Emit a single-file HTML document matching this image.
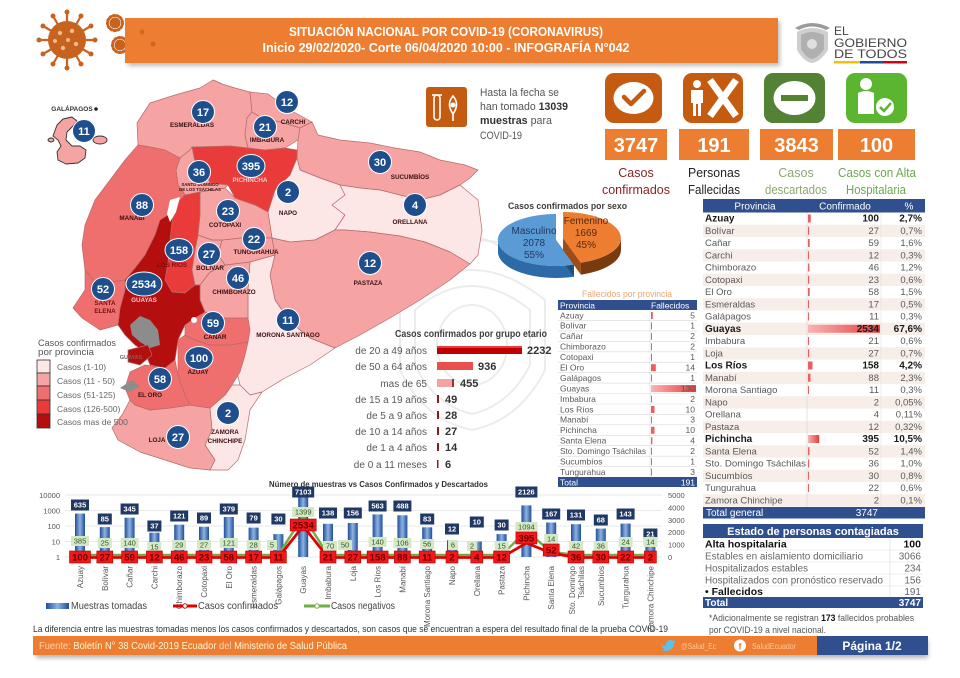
<!DOCTYPE html>
<html><head><meta charset="utf-8"><style>
html,body{margin:0;padding:0;background:#fff;}
svg{display:block;}
text{font-family:"Liberation Sans","DejaVu Sans",sans-serif;}
</style></head><body>
<svg width="960" height="678" viewBox="0 0 960 678" xmlns="http://www.w3.org/2000/svg">
<defs>
<linearGradient id="bar" x1="0" x2="1" y1="0" y2="0"><stop offset="0" stop-color="#1f4e99"/><stop offset="0.5" stop-color="#8db3e2"/><stop offset="1" stop-color="#1f4e99"/></linearGradient>
<linearGradient id="redbar" x1="0" x2="1"><stop offset="0" stop-color="#f8b4b4"/><stop offset="1" stop-color="#e83c3c"/></linearGradient>
<filter id="sh" x="-10%" y="-50%" width="120%" height="200%"><feGaussianBlur stdDeviation="2"/></filter>
</defs>
<rect width="960" height="678" fill="#fff"/>

<!-- faint watermark -->
<g fill="none" stroke="#ececec" stroke-width="2">
<path d="M400,300 Q470,240 545,300 L545,370 Q520,420 472,430 Q424,420 400,370 Z"/>
<path d="M415,310 Q470,262 530,310 L530,365 Q510,405 472,414 Q434,405 415,365 Z"/>
<path d="M380,265 Q470,215 565,265"/>
<ellipse cx="472" cy="345" rx="35" ry="40"/>
<path d="M440,250 Q472,225 505,250"/>
</g>

<!-- ===== HEADER ===== -->
<g fill="#c8621f" stroke="#c8621f" stroke-linecap="round">
<circle cx="67" cy="40" r="19" stroke="none"/>
<g stroke-width="2.2">
<line x1="67" y1="40" x2="95" y2="40"/><line x1="67" y1="40" x2="91" y2="54"/><line x1="67" y1="40" x2="81" y2="64"/>
<line x1="67" y1="40" x2="67" y2="68"/><line x1="67" y1="40" x2="53" y2="64"/><line x1="67" y1="40" x2="43" y2="54"/>
<line x1="67" y1="40" x2="39" y2="40"/><line x1="67" y1="40" x2="43" y2="26"/><line x1="67" y1="40" x2="53" y2="16"/>
<line x1="67" y1="40" x2="67" y2="12"/><line x1="67" y1="40" x2="81" y2="16"/><line x1="67" y1="40" x2="91" y2="26"/>
</g>
<g stroke="none">
<circle cx="95" cy="40" r="2.5"/><circle cx="91" cy="54" r="2.5"/><circle cx="81" cy="64" r="2.5"/><circle cx="67" cy="68" r="2.5"/><circle cx="53" cy="64" r="2.5"/><circle cx="43" cy="54" r="2.5"/><circle cx="39" cy="40" r="2.5"/><circle cx="43" cy="26" r="2.5"/><circle cx="53" cy="16" r="2.5"/><circle cx="67" cy="12" r="2.5"/><circle cx="81" cy="16" r="2.5"/><circle cx="91" cy="26" r="2.5"/>
</g>
<g fill="#f0b890" stroke="none"><circle cx="60" cy="33" r="2.2"/><circle cx="72" cy="31" r="2.2"/><circle cx="76" cy="44" r="2.2"/><circle cx="63" cy="48" r="2.2"/><circle cx="55" cy="41" r="2"/><circle cx="68" cy="40" r="2"/></g>
<circle cx="115" cy="23" r="5.5" stroke="none"/><circle cx="115" cy="23" r="7.5" fill="none" stroke-width="3" stroke-dasharray="1.5 2.2"/>
<circle cx="120" cy="45" r="5.5" stroke="none"/><circle cx="120" cy="45" r="7.5" fill="none" stroke-width="3" stroke-dasharray="1.5 2.2"/>
</g>
<rect x="128" y="21" width="652" height="45" fill="#888" opacity="0.55" filter="url(#sh)"/>
<rect x="125" y="18" width="653" height="45" fill="#ed7d31"/>
<circle cx="142" cy="32" r="2.5" fill="#c8621f" opacity="0.8"/><circle cx="153" cy="44" r="2.5" fill="#c8621f" opacity="0.8"/>
<text x="446" y="36" text-anchor="middle" font-size="12.5" font-weight="bold" fill="#fff" textLength="314" lengthAdjust="spacingAndGlyphs">SITUACIÓN NACIONAL POR COVID-19 (CORONAVIRUS)</text>
<text x="446" y="52" text-anchor="middle" font-size="12.5" font-weight="bold" fill="#fff" textLength="367" lengthAdjust="spacingAndGlyphs">Inicio 29/02/2020- Corte 06/04/2020 10:00 - INFOGRAFÍA N°042</text>

<!-- gov logo -->
<g>
<path d="M797,32 Q812,24 828,32 L828,50 Q820,62 812,63 Q804,62 797,50 Z" fill="#cfcfcf"/>
<path d="M801,35 Q812,29 824,35 L824,49 Q818,58 812,59 Q806,58 801,49 Z" fill="#b0b0b0"/>
<path d="M795,28 Q812,18 830,28 L826,30 Q812,23 799,30 Z" fill="#9a9a9a"/>
<circle cx="812" cy="44" r="5" fill="#e0e0e0"/>
</g>
<text x="834" y="35" font-size="12" fill="#444">EL</text>
<text x="834" y="47" font-size="12" fill="#444" textLength="73" lengthAdjust="spacingAndGlyphs">GOBIERNO</text>
<text x="834" y="58" font-size="12" fill="#444" textLength="73" lengthAdjust="spacingAndGlyphs">DE TODOS</text>
<rect x="834" y="61" width="26" height="2.5" fill="#f2c200"/>
<rect x="860" y="61" width="24" height="2.5" fill="#1f4e99"/>
<rect x="884" y="61" width="23" height="2.5" fill="#d0021b"/>

<!-- ===== TEST TUBE / SAMPLES ===== -->
<rect x="426" y="87" width="41" height="40" rx="3" fill="#c55a11"/>
<rect x="434" y="95" width="6" height="25" rx="3" fill="none" stroke="#fff" stroke-width="1.6"/>
<line x1="432" y1="95" x2="442" y2="95" stroke="#fff" stroke-width="1.6"/>
<path d="M453,96 Q460,104 453,114 Q446,104 453,96 Z" fill="none" stroke="#fff" stroke-width="1.6"/>
<circle cx="453" cy="105" r="2.5" fill="#fff"/>
<line x1="453" y1="114" x2="453" y2="121" stroke="#fff" stroke-width="1.6"/>
<g font-size="11" fill="#555">
<text x="480" y="96" textLength="79" lengthAdjust="spacingAndGlyphs">Hasta la fecha se</text>
<text x="480" y="110" textLength="88" lengthAdjust="spacingAndGlyphs">han tomado <tspan font-weight="bold" fill="#333">13039</tspan></text>
<text x="480" y="124" textLength="72" lengthAdjust="spacingAndGlyphs"><tspan font-weight="bold" fill="#333">muestras</tspan>  para</text>
<text x="480" y="139" textLength="42" lengthAdjust="spacingAndGlyphs">COVID-19</text>
</g>

<!-- ===== ICONS ===== -->
<rect x="605" y="73" width="57" height="50" rx="9" fill="#c55a11"/>
<ellipse cx="633.5" cy="98" rx="20" ry="16" fill="#fff"/>
<path d="M624,97 L631,104 L644,91" stroke="#c55a11" stroke-width="4.5" fill="none" stroke-linecap="round" stroke-linejoin="round"/>

<rect x="683" y="73" width="60" height="50" rx="9" fill="#c55a11"/>
<circle cx="697" cy="84" r="4" fill="#fff"/>
<path d="M691,90 L703,90 L703,103 L701,103 L701,116 L698,116 L698,104 L696,104 L696,116 L693,116 L693,103 L691,103 Z" fill="#fff"/>
<path d="M710,80 L736,116 M736,80 L710,116" stroke="#fff" stroke-width="7"/>

<rect x="764" y="73" width="61" height="50" rx="9" fill="#548235"/>
<ellipse cx="794.5" cy="98" rx="21" ry="17" fill="#fff"/>
<rect x="781" y="95" width="27" height="6" fill="#548235"/>

<rect x="846" y="73" width="61" height="50" rx="9" fill="#5cb531"/>
<circle cx="866" cy="84" r="6" fill="#fff"/>
<path d="M858,93 Q866,89 874,93 L874,114 L858,114 Z" fill="#fff"/>
<circle cx="885" cy="107" r="10" fill="#fff" stroke="#5cb531" stroke-width="2"/>
<path d="M880,107 L884,111 L891,103" stroke="#5cb531" stroke-width="2.5" fill="none"/>

<g fill="#ed7d31">
<rect x="605" y="129" width="62" height="31"/>
<rect x="679" y="129" width="70" height="31"/>
<rect x="760" y="129" width="73" height="31"/>
<rect x="838" y="129" width="77" height="31"/>
</g>
<g font-size="20" font-weight="bold" fill="#fff" text-anchor="middle">
<text x="636" y="152">3747</text>
<text x="714" y="152">191</text>
<text x="796.5" y="152">3843</text>
<text x="876.5" y="152">100</text>
</g>
<g font-size="12.5" text-anchor="middle">
<text x="636" y="177" fill="#8b2323">Casos</text>
<text x="636" y="194" fill="#8b2323" textLength="68" lengthAdjust="spacingAndGlyphs">confirmados</text>
<text x="714" y="177" fill="#222" textLength="52" lengthAdjust="spacingAndGlyphs">Personas</text>
<text x="714" y="194" fill="#222" textLength="52" lengthAdjust="spacingAndGlyphs">Fallecidas</text>
<text x="796" y="177" fill="#8aa870">Casos</text>
<text x="796" y="194" fill="#8aa870" textLength="62" lengthAdjust="spacingAndGlyphs">descartados</text>
<text x="877" y="177" fill="#6aa84f" textLength="78" lengthAdjust="spacingAndGlyphs">Casos con Alta</text>
<text x="876" y="194" fill="#6aa84f" textLength="60" lengthAdjust="spacingAndGlyphs">Hospitalaria</text>
</g>

<!-- ===== MAP ===== -->
<g stroke="#b86a6a" stroke-width="0.7" stroke-linejoin="round">
<polygon points="213,80 222,84 218,88" fill="#777"/>
<polygon fill="#f5a3a3" points="137,123 150,103 175,95 200,88 213,80 222,84 235,88 250,92 252,112 247,118 245,135 248,148 230,146 200,147 190,150 180,158 165,150 150,147 138,145"/>
<polygon fill="#f5a3a3" points="250,92 268,94 290,110 312,122 300,128 280,122 262,118 252,112"/>
<polygon fill="#f5a3a3" points="252,112 262,118 280,122 300,128 298,140 285,148 265,150 248,148 245,135 247,118"/>
<polygon fill="#f5a3a3" points="300,128 312,122 318,135 340,140 370,143 395,148 420,152 440,160 465,165 478,170 470,178 460,185 440,195 420,200 400,195 380,190 360,188 340,185 320,178 300,170 297,158 298,140"/>
<polygon fill="#fde6e6" points="297,158 300,170 320,178 340,185 345,195 332,205 345,215 335,230 315,240 290,242 272,238 268,212 275,190 290,175"/>
<polygon fill="#fde6e6" points="340,185 360,188 380,190 400,195 420,200 440,195 460,185 478,200 482,230 478,255 470,264 450,252 425,242 400,236 370,232 345,230 335,230 345,215 332,205 345,195"/>
<polygon fill="#f5a3a3" points="272,238 290,242 315,240 335,230 345,230 370,232 400,236 425,242 450,252 470,264 450,280 420,300 390,318 360,335 335,348 310,338 290,322 275,300 270,275 275,255"/>
<polygon fill="#fde6e6" points="250,262 275,255 270,275 275,300 290,322 310,338 335,348 310,365 285,378 262,392 250,395 240,385 235,365 245,345 248,318 248,290"/>
<polygon fill="#fde6e6" points="210,408 225,395 232,385 240,385 250,395 262,392 250,410 245,440 238,460 228,470 210,470 215,460 205,445 212,430"/>
<polygon fill="#f5a3a3" points="122,415 130,400 135,405 150,410 170,408 190,405 210,408 212,430 205,445 215,460 210,470 190,468 165,460 140,452 118,440 112,428"/>
<polygon fill="#ef6f6f" points="130,372 145,365 165,368 175,360 178,375 185,395 190,405 170,408 150,410 135,405 130,400 125,388"/>
<polygon fill="#ef6f6f" points="178,340 185,335 195,340 210,345 230,345 248,342 245,355 240,372 232,385 225,395 210,408 190,405 185,395 178,375 178,355"/>
<polygon fill="#ef6f6f" points="185,325 195,318 205,312 225,318 248,318 250,330 248,342 230,345 210,345 195,340 185,335"/>
<polygon fill="#f5a3a3" points="200,285 210,272 225,265 250,262 248,290 248,318 225,318 205,312 200,300"/>
<polygon fill="#f5a3a3" points="218,255 222,240 250,237 272,238 275,255 250,262 225,265"/>
<polygon fill="#f5a3a3" points="195,250 198,235 212,240 222,240 218,255 225,265 210,272 200,285 195,285 192,270"/>
<polygon fill="#f5a3a3" points="200,192 225,188 235,198 255,205 268,212 272,238 250,237 222,240 212,240 198,235 200,215"/>
<polygon fill="#ea3b3b" points="192,147 230,146 248,148 265,150 285,148 297,150 297,158 290,175 275,190 268,212 255,205 235,198 228,185 210,183 205,170 195,162"/>
<polygon fill="#f5a3a3" points="176,170 180,158 190,150 192,147 195,162 205,170 210,183 228,185 225,188 200,192 185,195 178,185"/>
<polygon fill="#ef6f6f" points="138,145 150,147 165,150 180,158 176,170 178,185 185,195 175,205 168,215 160,220 155,235 145,255 135,268 125,280 110,282 95,282 85,270 82,245 85,225 95,200 110,180 125,160"/>
<polygon fill="#ea3b3b" points="175,205 185,195 200,192 200,215 198,235 195,250 192,270 195,285 185,293 172,292 165,280 168,262 170,240 172,222"/>
<polygon fill="#b40e0e" points="160,220 168,215 175,205 172,222 170,240 168,262 165,280 172,292 185,293 195,285 200,285 200,300 205,312 195,318 185,325 178,340 175,360 165,368 150,365 145,352 135,345 125,335 118,325 120,308 125,290 125,280 135,268 145,255 155,235"/>
<polygon fill="#ef6f6f" points="85,270 95,282 110,282 125,280 125,290 120,308 118,325 100,330 82,318 73,308 85,290"/>
<polygon fill="#8c8c8c" stroke="none" points="130,325 140,316 150,320 158,330 160,345 150,348 140,342 132,335"/>
<polygon fill="#b40e0e" points="128,350 148,345 152,355 140,365 128,362"/>
<polygon fill="#8c8c8c" stroke="none" points="120,388 132,380 140,386 130,392"/>
<polygon fill="#fff" stroke="none" points="170,200 180,197 176,212 170,222 167,214"/>
<circle cx="194" cy="320" r="3" fill="#fff" stroke="none"/>
<!-- galapagos -->
<polygon fill="#f5a3a3" stroke="#333" stroke-width="0.9" points="57,125 63,119 72,117 77,121 72,127 67,132 66,140 72,146 80,146 86,150 85,158 78,163 66,164 58,160 57,152 61,146 58,140 53,136"/>
<ellipse cx="100" cy="140" rx="7" ry="4" fill="#f5a3a3" stroke="#333" stroke-width="0.9"/>
<ellipse cx="51" cy="140" rx="3" ry="2" fill="#f5a3a3" stroke="#333" stroke-width="0.9"/>
</g>
<circle cx="96" cy="109" r="1.8" fill="#222"/>
<text x="72" y="111" text-anchor="middle" font-size="6.5" font-weight="bold" fill="#333">GALÁPAGOS</text>

<!-- map labels -->
<g font-size="6.3" font-weight="bold" fill="#3a1010" text-anchor="middle">
<text x="192" y="127">ESMERALDAS</text>
<text x="293" y="124">CARCHI</text>
<text x="267" y="142">IMBABURA</text>
<text x="410" y="179">SUCUMBÍOS</text>
<text x="200" y="186" font-size="4.3">SANTO DOMINGO</text>
<text x="200" y="191" font-size="4.3">DE LOS TSÁCHILAS</text>
<text x="250" y="182" fill="#fbc8c8">PICHINCHA</text>
<text x="288" y="215">NAPO</text>
<text x="410" y="224">ORELLANA</text>
<text x="132" y="220">MANABÍ</text>
<text x="225" y="227">COTOPAXI</text>
<text x="256" y="254">TUNGURAHUA</text>
<text x="172" y="267" fill="#7a1010">LOS RÍOS</text>
<text x="210" y="270">BOLÍVAR</text>
<text x="368" y="285">PASTAZA</text>
<text x="234" y="294">CHIMBORAZO</text>
<text x="144" y="302" fill="#fbc8c8">GUAYAS</text>
<text x="105" y="305" fill="#7a1010">SANTA</text>
<text x="105" y="313" fill="#7a1010">ELENA</text>
<text x="288" y="337">MORONA SANTIAGO</text>
<text x="215" y="339">CAÑAR</text>
<text x="198" y="374">AZUAY</text>
<text x="150" y="397">EL ORO</text>
<text x="225" y="434">ZAMORA</text>
<text x="225" y="443">CHINCHIPE</text>
<text x="157" y="442">LOJA</text>
<text x="131" y="359" fill="#666" font-size="5.5">GUAYAS</text>
</g>

<!-- map circles -->
<g fill="#1f4e8c" stroke="#fff" stroke-width="1">
<circle cx="84" cy="131" r="11.5"/>
<circle cx="203" cy="112" r="11.5"/>
<circle cx="287" cy="102" r="11.5"/>
<circle cx="265" cy="127" r="11.5"/>
<circle cx="380" cy="162" r="11.5"/>
<circle cx="199" cy="172" r="11.5"/>
<ellipse cx="251" cy="166" rx="14" ry="11.5"/>
<circle cx="288" cy="192" r="11.5"/>
<circle cx="415" cy="205" r="11.5"/>
<circle cx="142" cy="205" r="11.5"/>
<circle cx="228" cy="211" r="11.5"/>
<circle cx="254" cy="239" r="11.5"/>
<ellipse cx="179" cy="250" rx="14" ry="11.5"/>
<circle cx="209" cy="254" r="11.5"/>
<circle cx="370" cy="263" r="11.5"/>
<circle cx="238" cy="278" r="11.5"/>
<ellipse cx="144" cy="284" rx="18" ry="12"/>
<circle cx="103" cy="289" r="11.5"/>
<circle cx="288" cy="320" r="11.5"/>
<circle cx="213" cy="323" r="11.5"/>
<ellipse cx="199" cy="358" rx="14" ry="11.5"/>
<circle cx="160" cy="379" r="11.5"/>
<circle cx="228" cy="413" r="11.5"/>
<circle cx="178" cy="437" r="11.5"/>
</g>
<g font-size="11" font-weight="bold" fill="#fff" text-anchor="middle">
<text x="84" y="135">11</text>
<text x="203" y="116">17</text>
<text x="287" y="106">12</text>
<text x="265" y="131">21</text>
<text x="380" y="166">30</text>
<text x="199" y="176">36</text>
<text x="251" y="170">395</text>
<text x="288" y="196">2</text>
<text x="415" y="209">4</text>
<text x="142" y="209">88</text>
<text x="228" y="215">23</text>
<text x="254" y="243">22</text>
<text x="179" y="254">158</text>
<text x="209" y="258">27</text>
<text x="370" y="267">12</text>
<text x="238" y="282">46</text>
<text x="144" y="288">2534</text>
<text x="103" y="293">52</text>
<text x="288" y="324">11</text>
<text x="213" y="327">59</text>
<text x="199" y="362">100</text>
<text x="160" y="383">58</text>
<text x="228" y="417">2</text>
<text x="178" y="441">27</text>
</g>

<!-- map legend -->
<text x="38" y="346" font-size="9" fill="#555" textLength="78" lengthAdjust="spacingAndGlyphs">Casos confirmados</text>
<text x="38" y="355" font-size="9" fill="#555" textLength="56" lengthAdjust="spacingAndGlyphs">por provincia</text>
<g stroke="#333" stroke-width="0.8">
<rect x="37" y="360" width="13" height="13" fill="#fde6e6"/>
<rect x="37" y="373" width="13" height="13" fill="#f5a3a3"/>
<rect x="37" y="386" width="13" height="14" fill="#ef6f6f"/>
<rect x="37" y="400" width="13" height="14" fill="#ea3b3b"/>
<rect x="37" y="414" width="13" height="14" fill="#b40e0e"/>
</g>
<g font-size="8.5" fill="#666">
<text x="57" y="370">Casos (1-10)</text>
<text x="57" y="384">Casos (11 - 50)</text>
<text x="57" y="398">Casos (51-125)</text>
<text x="57" y="412">Casos (126-500)</text>
<text x="57" y="425">Casos mas de 500</text>
</g>

<!-- ===== PIE ===== -->
<text x="508" y="209" font-size="9.5" font-weight="bold" fill="#404040" textLength="119" lengthAdjust="spacingAndGlyphs">Casos confirmados por sexo</text>
<path d="M573.9,264.7 A58,26 0 0,1 498,240 L498,252 A58,26 0 0,0 573.9,276.7 Z" fill="#2e6aa8"/>
<path d="M556,240 L573.9,264.7 L573.9,276.7 L556,252 Z" fill="#1f4e79"/>
<path d="M556,240 L573.9,264.7 A58,26 0 1,1 556,214 Z" fill="#5b9bd5"/>
<path d="M621,238 A58,26 0 0,1 580.9,262.7 L580.9,274.7 A58,26 0 0,0 621,250 Z" fill="#7a3a10"/>
<path d="M563,238 L580.9,262.7 L580.9,274.7 L563,250 Z" fill="#a04c18"/>
<path d="M563,238 L563,212 A58,26 0 0,1 580.9,262.7 Z" fill="#ed7d31"/>
<g font-size="10" text-anchor="middle">
<text x="534" y="234" fill="#1f3864">Masculino</text>
<text x="534" y="246" fill="#1f3864">2078</text>
<text x="534" y="258" fill="#1f3864">55%</text>
<text x="586" y="224" fill="#5a2a0a">Femenino</text>
<text x="586" y="236" fill="#5a2a0a">1669</text>
<text x="586" y="248" fill="#5a2a0a">45%</text>
</g>

<!-- ===== AGE CHART ===== -->
<text x="395" y="337" font-size="10" font-weight="bold" fill="#404040" textLength="152" lengthAdjust="spacingAndGlyphs">Casos confirmados por grupo etario</text>
<g font-size="10" fill="#595959" text-anchor="end">
<text x="427" y="354">de 20 a 49 años</text>
<text x="427" y="370">de 50 a 64 años</text>
<text x="427" y="387">mas de 65</text>
<text x="427" y="403">de 15 a 19 años</text>
<text x="427" y="419">de 5 a 9 años</text>
<text x="427" y="435">de 10 a 14 años</text>
<text x="427" y="451">de 1 a 4 años</text>
<text x="427" y="468">de 0 a 11 meses</text>
</g>
<rect x="437" y="346" width="85" height="8" fill="#c00000"/><rect x="437" y="346" width="85" height="2" fill="#e04040"/>
<rect x="437" y="362" width="36" height="8" fill="#e8504f"/>
<rect x="437" y="379" width="17" height="8" fill="#f3a3a3"/><rect x="452" y="379" width="2" height="8" fill="#a03030"/>
<g fill="#7f2020">
<rect x="437" y="395" width="2" height="8"/><rect x="437" y="411" width="2" height="8"/><rect x="437" y="427" width="2" height="8"/><rect x="437" y="443" width="2" height="8"/><rect x="437" y="460" width="1.5" height="8"/>
</g>
<g font-size="11" font-weight="bold" fill="#333">
<text x="527" y="354">2232</text>
<text x="478" y="370">936</text>
<text x="460" y="387">455</text>
<text x="445" y="403">49</text>
<text x="445" y="419">28</text>
<text x="445" y="435">27</text>
<text x="445" y="451">14</text>
<text x="445" y="468">6</text>
</g>

<!-- ===== FALLECIDOS TABLE ===== -->
<text x="582" y="297" font-size="9.5" fill="#e8a870" textLength="90" lengthAdjust="spacingAndGlyphs">Fallecidos por provincia</text>
<rect x="558" y="300" width="139" height="10" fill="#2f4f8f"/>
<text x="560" y="308.5" font-size="8.5" fill="#fff">Provincia</text>
<text x="651" y="308.5" font-size="8.5" fill="#fff">Fallecidos</text>
<rect x="558" y="310" width="139" height="167" fill="#fff"/>
<g stroke="#d9d9d9" stroke-width="0.6">
<line x1="558" y1="320.4" x2="697" y2="320.4"/><line x1="558" y1="330.9" x2="697" y2="330.9"/><line x1="558" y1="341.3" x2="697" y2="341.3"/><line x1="558" y1="351.8" x2="697" y2="351.8"/><line x1="558" y1="362.2" x2="697" y2="362.2"/><line x1="558" y1="372.6" x2="697" y2="372.6"/><line x1="558" y1="383.1" x2="697" y2="383.1"/><line x1="558" y1="393.5" x2="697" y2="393.5"/><line x1="558" y1="404" x2="697" y2="404"/><line x1="558" y1="414.4" x2="697" y2="414.4"/><line x1="558" y1="424.8" x2="697" y2="424.8"/><line x1="558" y1="435.3" x2="697" y2="435.3"/><line x1="558" y1="445.7" x2="697" y2="445.7"/><line x1="558" y1="456.2" x2="697" y2="456.2"/><line x1="558" y1="466.6" x2="697" y2="466.6"/>
<line x1="650" y1="310" x2="650" y2="477"/>
</g>
<g fill="#e86060">
<rect x="651" y="312" width="1.8" height="7"/><rect x="651" y="322.4" width="1" height="7"/><rect x="651" y="332.9" width="1" height="7"/><rect x="651" y="343.3" width="1" height="7"/><rect x="651" y="353.8" width="1" height="7"/><rect x="651" y="364.2" width="4.8" height="7"/><rect x="651" y="374.6" width="1" height="7"/><rect x="651" y="385.1" width="45" height="7" fill="url(#redbar)"/><rect x="651" y="395.5" width="1" height="7"/><rect x="651" y="406" width="3.5" height="7"/><rect x="651" y="416.4" width="1" height="7"/><rect x="651" y="426.8" width="3.5" height="7"/><rect x="651" y="437.3" width="1.4" height="7"/><rect x="651" y="447.7" width="1" height="7"/><rect x="651" y="458.2" width="1" height="7"/><rect x="651" y="468.6" width="1" height="7"/>
</g>
<g font-size="8.5" fill="#595959">
<text x="560" y="318.3">Azuay</text><text x="560" y="328.7">Bolívar</text><text x="560" y="339.2">Cañar</text><text x="560" y="349.6">Chimborazo</text><text x="560" y="360.1">Cotopaxi</text><text x="560" y="370.5">El Oro</text><text x="560" y="380.9">Galápagos</text><text x="560" y="391.4">Guayas</text><text x="560" y="401.8">Imbabura</text><text x="560" y="412.3">Los Ríos</text><text x="560" y="422.7">Manabí</text><text x="560" y="433.1">Pichincha</text><text x="560" y="443.6">Santa Elena</text><text x="560" y="454" textLength="86" lengthAdjust="spacingAndGlyphs">Sto. Domingo Tsáchilas</text><text x="560" y="464.5">Sucumbíos</text><text x="560" y="474.9">Tungurahua</text>
</g>
<g font-size="8.5" fill="#595959" text-anchor="end">
<text x="695" y="318.3">5</text><text x="695" y="328.7">1</text><text x="695" y="339.2">2</text><text x="695" y="349.6">2</text><text x="695" y="360.1">1</text><text x="695" y="370.5">14</text><text x="695" y="380.9">1</text><text x="695" y="391.4">130</text><text x="695" y="401.8">2</text><text x="695" y="412.3">10</text><text x="695" y="422.7">3</text><text x="695" y="433.1">10</text><text x="695" y="443.6">4</text><text x="695" y="454">2</text><text x="695" y="464.5">1</text><text x="695" y="474.9">3</text>
</g>
<rect x="558" y="477" width="139" height="10" fill="#2f4f8f"/>
<text x="560" y="485.3" font-size="8.5" fill="#fff">Total</text>
<text x="695" y="485.3" font-size="8.5" fill="#fff" text-anchor="end">191</text>

<!-- ===== PROVINCE TABLE ===== -->
<rect x="703" y="199" width="222" height="13.5" fill="#2f4f8f"/>
<g font-size="10" fill="#fff" text-anchor="middle">
<text x="755" y="209.5">Provincia</text><text x="845" y="209.5">Confirmado</text><text x="909" y="209.5">%</text>
</g>
<g fill="#f7eeea">
<rect x="703" y="224.75" width="222" height="12.25"/><rect x="703" y="249.25" width="222" height="12.25"/><rect x="703" y="273.75" width="222" height="12.25"/><rect x="703" y="298.25" width="222" height="12.25"/><rect x="703" y="322.75" width="222" height="12.25"/><rect x="703" y="347.25" width="222" height="12.25"/><rect x="703" y="371.75" width="222" height="12.25"/><rect x="703" y="396.25" width="222" height="12.25"/><rect x="703" y="420.75" width="222" height="12.25"/><rect x="703" y="445.25" width="222" height="12.25"/><rect x="703" y="469.75" width="222" height="12.25"/><rect x="703" y="494.25" width="222" height="12.25"/>
</g>
<line x1="807" y1="212.5" x2="807" y2="507" stroke="#d0d0d0" stroke-width="0.6"/>
<line x1="881" y1="212.5" x2="881" y2="507" stroke="#e0e0e0" stroke-width="0.6"/>
<g fill="#e86060">
<rect x="808" y="214.5" width="2.8" height="8"/><rect x="808" y="226.75" width="1.2" height="8"/><rect x="808" y="239" width="1.7" height="8"/><rect x="808" y="251.25" width="1" height="8"/><rect x="808" y="263.5" width="1.4" height="8"/><rect x="808" y="275.75" width="1.2" height="8"/><rect x="808" y="288" width="1.7" height="8"/><rect x="808" y="300.25" width="1" height="8"/><rect x="808" y="312.5" width="1" height="8"/><rect x="808" y="324.75" width="72" height="8" fill="url(#redbar)"/><rect x="808" y="337" width="1" height="8"/><rect x="808" y="349.25" width="1.2" height="8"/><rect x="808" y="361.5" width="4.5" height="8"/><rect x="808" y="373.75" width="2.5" height="8"/><rect x="808" y="386" width="1" height="8"/><rect x="808" y="435" width="11.2" height="8" fill="url(#redbar)"/><rect x="808" y="447.25" width="1.5" height="8"/><rect x="808" y="459.5" width="1.2" height="8"/><rect x="808" y="471.75" width="1" height="8"/><rect x="808" y="484" width="1" height="8"/>
</g>
<g font-size="9.5" fill="#595959">
<text x="705" y="233.75">Bolívar</text><text x="705" y="246">Cañar</text><text x="705" y="258.25">Carchi</text><text x="705" y="270.5">Chimborazo</text><text x="705" y="282.75">Cotopaxi</text><text x="705" y="295">El Oro</text><text x="705" y="307.25">Esmeraldas</text><text x="705" y="319.5">Galápagos</text><text x="705" y="344">Imbabura</text><text x="705" y="356.25">Loja</text><text x="705" y="380.75">Manabí</text><text x="705" y="393">Morona Santiago</text><text x="705" y="405.25">Napo</text><text x="705" y="417.5">Orellana</text><text x="705" y="429.75">Pastaza</text><text x="705" y="454.25">Santa Elena</text><text x="705" y="466.5" textLength="101" lengthAdjust="spacingAndGlyphs">Sto. Domingo Tsáchilas</text><text x="705" y="478.75">Sucumbíos</text><text x="705" y="491">Tungurahua</text><text x="705" y="503.25">Zamora Chinchipe</text>
</g>
<g font-size="10" font-weight="bold" fill="#1a1a1a">
<text x="705" y="221.5">Azuay</text><text x="705" y="331.75">Guayas</text><text x="705" y="368.5">Los Ríos</text><text x="705" y="442">Pichincha</text>
</g>
<g font-size="9.5" fill="#595959" text-anchor="end">
<text x="879" y="233.75">27</text><text x="879" y="246">59</text><text x="879" y="258.25">12</text><text x="879" y="270.5">46</text><text x="879" y="282.75">23</text><text x="879" y="295">58</text><text x="879" y="307.25">17</text><text x="879" y="319.5">11</text><text x="879" y="344">21</text><text x="879" y="356.25">27</text><text x="879" y="380.75">88</text><text x="879" y="393">11</text><text x="879" y="405.25">2</text><text x="879" y="417.5">4</text><text x="879" y="429.75">12</text><text x="879" y="454.25">52</text><text x="879" y="466.5">36</text><text x="879" y="478.75">30</text><text x="879" y="491">22</text><text x="879" y="503.25">2</text>
<text x="922" y="233.75">0,7%</text><text x="922" y="246">1,6%</text><text x="922" y="258.25">0,3%</text><text x="922" y="270.5">1,2%</text><text x="922" y="282.75">0,6%</text><text x="922" y="295">1,5%</text><text x="922" y="307.25">0,5%</text><text x="922" y="319.5">0,3%</text><text x="922" y="344">0,6%</text><text x="922" y="356.25">0,7%</text><text x="922" y="380.75">2,3%</text><text x="922" y="393">0,3%</text><text x="922" y="405.25">0,05%</text><text x="922" y="417.5">0,11%</text><text x="922" y="429.75">0,32%</text><text x="922" y="454.25">1,4%</text><text x="922" y="466.5">1,0%</text><text x="922" y="478.75">0,8%</text><text x="922" y="491">0,6%</text><text x="922" y="503.25">0,1%</text>
</g>
<g font-size="10" font-weight="bold" fill="#1a1a1a" text-anchor="end">
<text x="879" y="221.5">100</text><text x="879" y="331.75">2534</text><text x="879" y="368.5">158</text><text x="879" y="442">395</text>
<text x="922" y="221.5">2,7%</text><text x="922" y="331.75">67,6%</text><text x="922" y="368.5">4,2%</text><text x="922" y="442">10,5%</text>
</g>
<rect x="703" y="507" width="222" height="11.5" fill="#2f4f8f"/>
<text x="706" y="516" font-size="10" fill="#fff">Total general</text>
<text x="878" y="516" font-size="10" fill="#fff" text-anchor="end">3747</text>

<!-- ===== ESTADO TABLE ===== -->
<rect x="703" y="524" width="220" height="14" fill="#2f4f8f"/>
<text x="813" y="535" font-size="11" font-weight="bold" fill="#fff" text-anchor="middle">Estado de personas contagiadas</text>
<g stroke="#d9d9d9" stroke-width="0.6">
<line x1="703" y1="550" x2="923" y2="550"/><line x1="703" y1="562" x2="923" y2="562"/><line x1="703" y1="574" x2="923" y2="574"/><line x1="703" y1="586" x2="923" y2="586"/>
<line x1="890" y1="538" x2="890" y2="597"/>
</g>
<text x="705" y="547.5" font-size="10.5" font-weight="bold" fill="#111">Alta hospitalaria</text>
<text x="921" y="547.5" font-size="10.5" font-weight="bold" fill="#111" text-anchor="end">100</text>
<g font-size="10" fill="#666">
<text x="705" y="559.5" textLength="158" lengthAdjust="spacingAndGlyphs">Estables en aislamiento domiciliario</text>
<text x="705" y="571.5" textLength="103" lengthAdjust="spacingAndGlyphs">Hospitalizados estables</text>
<text x="705" y="583.5" textLength="178" lengthAdjust="spacingAndGlyphs">Hospitalizados con pronóstico reservado</text>
<text x="921" y="559.5" text-anchor="end">3066</text>
<text x="921" y="571.5" text-anchor="end">234</text>
<text x="921" y="583.5" text-anchor="end">156</text>
<text x="921" y="595" text-anchor="end">191</text>
</g>
<text x="705" y="595" font-size="10.5" font-weight="bold" fill="#111">• Fallecidos</text>
<rect x="703" y="597" width="220" height="11" fill="#2f4f8f"/>
<text x="705" y="606" font-size="10" font-weight="bold" fill="#fff">Total</text>
<text x="921" y="606" font-size="10" font-weight="bold" fill="#fff" text-anchor="end">3747</text>
<text x="709" y="621" font-size="9.5" fill="#555" textLength="205" lengthAdjust="spacingAndGlyphs">*Adicionalmente se registran <tspan font-weight="bold" fill="#111">173</tspan> fallecidos probables</text>
<text x="709" y="633" font-size="9.5" fill="#555" textLength="117" lengthAdjust="spacingAndGlyphs">por COVID-19 a nivel nacional.</text>

<!-- ===== BOTTOM CHART ===== -->
<text x="269" y="487" font-size="8.5" font-weight="bold" fill="#333" textLength="219" lengthAdjust="spacingAndGlyphs">Número de muestras vs Casos Confirmados y Descartados</text>
<g stroke="#e3e3e3" stroke-width="0.8">
<line x1="65" y1="495" x2="662" y2="495"/><line x1="65" y1="510.5" x2="662" y2="510.5"/><line x1="65" y1="526" x2="662" y2="526"/><line x1="65" y1="541.5" x2="662" y2="541.5"/><line x1="65" y1="557" x2="662" y2="557"/>
</g>
<g font-size="7.5" fill="#555" text-anchor="end">
<text x="60" y="498">10000</text><text x="60" y="513.5">1000</text><text x="60" y="529">100</text><text x="60" y="544.5">10</text><text x="60" y="560">1</text>
</g>
<g font-size="7.5" fill="#555">
<text x="668" y="498">5000</text><text x="668" y="510.4">4000</text><text x="668" y="522.8">3000</text><text x="668" y="535.2">2000</text><text x="668" y="547.6">1000</text><text x="668" y="560">0</text>
</g>
<g fill="url(#bar)">
<rect x="75" y="513.6" width="10" height="43.4"/>
<rect x="99.8" y="527.1" width="10" height="29.9"/>
<rect x="124.6" y="517.7" width="10" height="39.3"/>
<rect x="149.4" y="532.7" width="10" height="24.3"/>
<rect x="174.2" y="524.7" width="10" height="32.3"/>
<rect x="199" y="526.8" width="10" height="30.2"/>
<rect x="223.8" y="517" width="10" height="40"/>
<rect x="248.6" y="527.6" width="10" height="29.4"/>
<rect x="273.4" y="534.1" width="10" height="22.9"/>
<rect x="298.2" y="497.3" width="10" height="59.7"/>
<rect x="323" y="523.8" width="10" height="33.2"/>
<rect x="347.8" y="523" width="10" height="34"/>
<rect x="372.6" y="514.4" width="10" height="42.6"/>
<rect x="397.4" y="515.3" width="10" height="41.7"/>
<rect x="422.2" y="527.3" width="10" height="29.7"/>
<rect x="447" y="540.3" width="10" height="16.7"/>
<rect x="471.8" y="541.5" width="10" height="15.5"/>
<rect x="496.6" y="534.1" width="10" height="22.9"/>
<rect x="521.4" y="505.4" width="10" height="51.6"/>
<rect x="546.2" y="522.5" width="10" height="34.5"/>
<rect x="571" y="524.2" width="10" height="32.8"/>
<rect x="595.8" y="528.6" width="10" height="28.4"/>
<rect x="620.6" y="523.6" width="10" height="33.4"/>
<rect x="645.4" y="536.5" width="10" height="20.5"/>
</g>
<!-- lines -->
<polyline fill="none" stroke="#70ad47" stroke-width="2.5" points="80,555 104.8,555 129.6,555 154.4,555 179.2,555 204,555 228.8,555 253.6,555 278.4,555 303.2,516 328,555 352.8,555 377.6,555 402.4,555 427.2,555 452,555 476.8,555 501.6,555 526.4,531 551.2,552 576,555 600.8,555 625.6,555 650.4,555"/>
<polyline fill="none" stroke="#e00000" stroke-width="2.8" points="80,557.5 104.8,557.5 129.6,557.5 154.4,557.5 179.2,557.5 204,557.5 228.8,557.5 253.6,557.5 278.4,557.5 303.2,526 328,557.5 352.8,557.5 377.6,557.5 402.4,557.5 427.2,557.5 452,557.5 476.8,557.5 501.6,557.5 526.4,543 551.2,553 576,557.5 600.8,557.5 625.6,557.5 650.4,557.5"/>
<!-- blue labels -->
<g fill="#1f3864">
<rect x="71" y="499.5" width="18" height="11"/>
<rect x="97.8" y="513.5" width="14" height="11"/>
<rect x="120.6" y="503.5" width="18" height="11"/>
<rect x="147.4" y="520.5" width="14" height="11"/>
<rect x="170.2" y="510.5" width="18" height="11"/>
<rect x="197" y="512.5" width="14" height="11"/>
<rect x="219.8" y="503.5" width="18" height="11"/>
<rect x="246.6" y="512.5" width="14" height="11"/>
<rect x="271.4" y="513.5" width="14" height="11"/>
<rect x="292.2" y="486.5" width="22" height="11"/>
<rect x="319" y="507.5" width="18" height="11"/>
<rect x="343.8" y="507.5" width="18" height="11"/>
<rect x="368.6" y="500.5" width="18" height="11"/>
<rect x="393.4" y="500.5" width="18" height="11"/>
<rect x="420.2" y="513.5" width="14" height="11"/>
<rect x="445" y="523.5" width="14" height="11"/>
<rect x="469.8" y="516.5" width="14" height="11"/>
<rect x="494.6" y="519.5" width="14" height="11"/>
<rect x="515.4" y="486.5" width="22" height="11"/>
<rect x="542.2" y="508.5" width="18" height="11"/>
<rect x="567" y="509.5" width="18" height="11"/>
<rect x="593.8" y="514.5" width="14" height="11"/>
<rect x="616.6" y="508.5" width="18" height="11"/>
<rect x="643.4" y="528.5" width="14" height="11"/>
</g>
<g font-size="7.5" font-weight="bold" fill="#fff" text-anchor="middle">
<text x="80" y="507.7">635</text><text x="104.8" y="521.7">85</text><text x="129.6" y="511.7">345</text><text x="154.4" y="528.7">37</text><text x="179.2" y="518.7">121</text><text x="204" y="520.7">89</text><text x="228.8" y="511.7">379</text><text x="253.6" y="520.7">79</text><text x="278.4" y="521.7">30</text><text x="303.2" y="494.7">7103</text><text x="328" y="515.7">138</text><text x="352.8" y="515.7">156</text><text x="377.6" y="508.7">563</text><text x="402.4" y="508.7">488</text><text x="427.2" y="521.7">83</text><text x="452" y="531.7">12</text><text x="476.8" y="524.7">10</text><text x="501.6" y="527.7">30</text><text x="526.4" y="494.7">2126</text><text x="551.2" y="516.7">167</text><text x="576" y="517.7">131</text><text x="600.8" y="522.7">68</text><text x="625.6" y="516.7">143</text><text x="650.4" y="536.7">21</text>
</g>
<!-- green labels -->
<g fill="#d3e8c6">
<rect x="71" y="536" width="18" height="10"/>
<rect x="97.8" y="538" width="14" height="10"/>
<rect x="120.6" y="538" width="18" height="10"/>
<rect x="147.4" y="542" width="14" height="10"/>
<rect x="172.2" y="540" width="14" height="10"/>
<rect x="197" y="540" width="14" height="10"/>
<rect x="219.8" y="538" width="18" height="10"/>
<rect x="246.6" y="540" width="14" height="10"/>
<rect x="267" y="540" width="10" height="10"/>
<rect x="292.2" y="507" width="22" height="10"/>
<rect x="323" y="541" width="14" height="10"/>
<rect x="338" y="540" width="14" height="10"/>
<rect x="368.6" y="537" width="18" height="10"/>
<rect x="393.4" y="538" width="18" height="10"/>
<rect x="420.2" y="539" width="14" height="10"/>
<rect x="448" y="540" width="10" height="10"/>
<rect x="467" y="541" width="10" height="10"/>
<rect x="494.6" y="541" width="14" height="10"/>
<rect x="515.4" y="522" width="22" height="10"/>
<rect x="544.2" y="534" width="14" height="10"/>
<rect x="569" y="541" width="14" height="10"/>
<rect x="593.8" y="541" width="14" height="10"/>
<rect x="618.6" y="537" width="14" height="10"/>
<rect x="643.4" y="537" width="14" height="10"/>
</g>
<g font-size="7.5" fill="#375623" text-anchor="middle">
<text x="80" y="543.7">385</text><text x="104.8" y="545.7">25</text><text x="129.6" y="545.7">140</text><text x="154.4" y="549.7">15</text><text x="179.2" y="547.7">29</text><text x="204" y="547.7">27</text><text x="228.8" y="545.7">121</text><text x="253.6" y="547.7">28</text><text x="272" y="547.7">5</text><text x="303.2" y="514.7">1399</text><text x="330" y="548.7">70</text><text x="345" y="547.7">50</text><text x="377.6" y="544.7">140</text><text x="402.4" y="545.7">106</text><text x="427.2" y="546.7">56</text><text x="453" y="547.7">6</text><text x="472" y="548.7">2</text><text x="501.6" y="548.7">15</text><text x="526.4" y="529.7">1094</text><text x="551.2" y="541.7">14</text><text x="576" y="548.7">42</text><text x="600.8" y="548.7">36</text><text x="625.6" y="544.7">24</text><text x="650.4" y="544.7">14</text>
</g>
<!-- red labels -->
<g fill="#f01818" stroke="#b00000" stroke-width="0.6">
<rect x="69.5" y="551" width="21" height="12"/>
<rect x="96.8" y="551" width="16" height="12"/>
<rect x="121.6" y="551" width="16" height="12"/>
<rect x="146.4" y="551" width="16" height="12"/>
<rect x="171.2" y="551" width="16" height="12"/>
<rect x="196" y="551" width="16" height="12"/>
<rect x="220.8" y="551" width="16" height="12"/>
<rect x="245.6" y="551" width="16" height="12"/>
<rect x="270.4" y="551" width="16" height="12"/>
<rect x="290.2" y="519" width="26" height="12"/>
<rect x="320" y="551" width="16" height="12"/>
<rect x="344.8" y="551" width="16" height="12"/>
<rect x="367.1" y="551" width="21" height="12"/>
<rect x="394.4" y="551" width="16" height="12"/>
<rect x="419.2" y="551" width="16" height="12"/>
<rect x="446" y="551" width="12" height="12"/>
<rect x="470.8" y="551" width="12" height="12"/>
<rect x="493.6" y="551" width="16" height="12"/>
<rect x="515.9" y="532" width="21" height="12"/>
<rect x="543.2" y="544" width="16" height="12"/>
<rect x="568" y="551" width="16" height="12"/>
<rect x="592.8" y="551" width="16" height="12"/>
<rect x="617.6" y="551" width="16" height="12"/>
<rect x="644.4" y="551" width="12" height="12"/>
</g>
<g font-size="9.5" font-weight="bold" fill="#6b0000" text-anchor="middle">
<text x="80" y="560.5">100</text><text x="104.8" y="560.5">27</text><text x="129.6" y="560.5">59</text><text x="154.4" y="560.5">12</text><text x="179.2" y="560.5">46</text><text x="204" y="560.5">23</text><text x="228.8" y="560.5">58</text><text x="253.6" y="560.5">17</text><text x="278.4" y="560.5">11</text><text x="303.2" y="528.5">2534</text><text x="328" y="560.5">21</text><text x="352.8" y="560.5">27</text><text x="377.6" y="560.5">158</text><text x="402.4" y="560.5">88</text><text x="427.2" y="560.5">11</text><text x="452" y="560.5">2</text><text x="476.8" y="560.5">4</text><text x="501.6" y="560.5">12</text><text x="526.4" y="541.5">395</text><text x="551.2" y="553.5">52</text><text x="576" y="560.5">36</text><text x="600.8" y="560.5">30</text><text x="625.6" y="560.5">22</text><text x="650.4" y="560.5">2</text>
</g>
<!-- category labels -->
<g font-size="8" fill="#595959" text-anchor="end">
<text transform="translate(83,566) rotate(-90)">Azuay</text>
<text transform="translate(107.8,566) rotate(-90)">Bolívar</text>
<text transform="translate(132.6,566) rotate(-90)">Cañar</text>
<text transform="translate(157.4,566) rotate(-90)">Carchi</text>
<text transform="translate(182.2,566) rotate(-90)">Chimborazo</text>
<text transform="translate(207,566) rotate(-90)">Cotopaxi</text>
<text transform="translate(231.8,566) rotate(-90)">El Oro</text>
<text transform="translate(256.6,566) rotate(-90)">Esmeraldas</text>
<text transform="translate(281.4,566) rotate(-90)">Galápagos</text>
<text transform="translate(306.2,566) rotate(-90)">Guayas</text>
<text transform="translate(331,566) rotate(-90)">Imbabura</text>
<text transform="translate(355.8,566) rotate(-90)">Loja</text>
<text transform="translate(380.6,566) rotate(-90)">Los Ríos</text>
<text transform="translate(405.4,566) rotate(-90)">Manabí</text>
<text transform="translate(430.2,566) rotate(-90)">Morona Santiago</text>
<text transform="translate(455,566) rotate(-90)">Napo</text>
<text transform="translate(479.8,566) rotate(-90)">Orellana</text>
<text transform="translate(504.6,566) rotate(-90)">Pastaza</text>
<text transform="translate(529.4,566) rotate(-90)">Pichincha</text>
<text transform="translate(554.2,566) rotate(-90)">Santa Elena</text>
<text transform="translate(575,566) rotate(-90)">Sto. Domingo</text>
<text transform="translate(584,566) rotate(-90)">Tsáchilas</text>
<text transform="translate(603.8,566) rotate(-90)">Sucumbíos</text>
<text transform="translate(628.6,566) rotate(-90)">Tungurahua</text>
<text transform="translate(653.4,566) rotate(-90)">Zamora Chinchipe</text>
</g>
<!-- chart legend -->
<rect x="46" y="603" width="23" height="6" fill="url(#bar)"/>
<text x="71" y="609" font-size="10" fill="#444" textLength="76" lengthAdjust="spacingAndGlyphs">Muestras tomadas</text>
<line x1="173" y1="606" x2="197" y2="606" stroke="#e00000" stroke-width="3"/>
<circle cx="185" cy="606" r="2.2" fill="#fff" stroke="#e00000" stroke-width="1"/>
<text x="198" y="609" font-size="10" fill="#444" textLength="80" lengthAdjust="spacingAndGlyphs">Casos confirmados</text>
<line x1="304" y1="606" x2="330" y2="606" stroke="#70ad47" stroke-width="3"/>
<circle cx="317" cy="606" r="2.2" fill="#fff" stroke="#70ad47" stroke-width="1"/>
<text x="331" y="609" font-size="10" fill="#444" textLength="64" lengthAdjust="spacingAndGlyphs">Casos negativos</text>

<text x="33" y="632" font-size="9.5" fill="#333" textLength="635" lengthAdjust="spacingAndGlyphs">La diferencia entre las muestras tomadas menos los casos confirmados y descartados, son casos que se encuentran a espera del resultado final de la prueba COVID-19</text>

<!-- ===== FOOTER ===== -->
<rect x="36" y="640" width="892" height="18" fill="#777" opacity="0.55" filter="url(#sh)"/>
<rect x="33" y="636" width="784" height="19" fill="#ed7d31"/>
<rect x="817" y="636" width="111" height="19" fill="#2f4f8f"/>
<text x="39" y="649" font-size="10" fill="#fbd3b0" textLength="308" lengthAdjust="spacingAndGlyphs">Fuente: <tspan fill="#fff5d6">Boletín N° 38 Covid-2019 Ecuador</tspan> del <tspan fill="#fff5d6">Ministerio de Salud Pública</tspan></text>
<path d="M661,644 Q663,646 666,646 Q665,641 670,640 Q672,640 673,641 L675,640 L674,642 L676,642 L674,643 Q674,650 666,651 Q663,651 661,650 Q664,650 665,649 Q662,648 662,647 L663,647 Q661,646 661,644 Z" fill="#5bc0ea"/>
<text x="681" y="649" font-size="8" fill="#fbc8a0" textLength="35" lengthAdjust="spacingAndGlyphs">@Salud_Ec</text>
<circle cx="740" cy="645.5" r="6" fill="#fff"/>
<text x="740" y="649.5" font-size="9" font-weight="bold" fill="#ed7d31" text-anchor="middle">f</text>
<text x="752" y="649" font-size="8" fill="#fbc8a0" textLength="44" lengthAdjust="spacingAndGlyphs">SaludEcuador</text>
<text x="872" y="650" font-size="12" font-weight="bold" fill="#fff" text-anchor="middle">Página 1/2</text>
</svg>
</body></html>
